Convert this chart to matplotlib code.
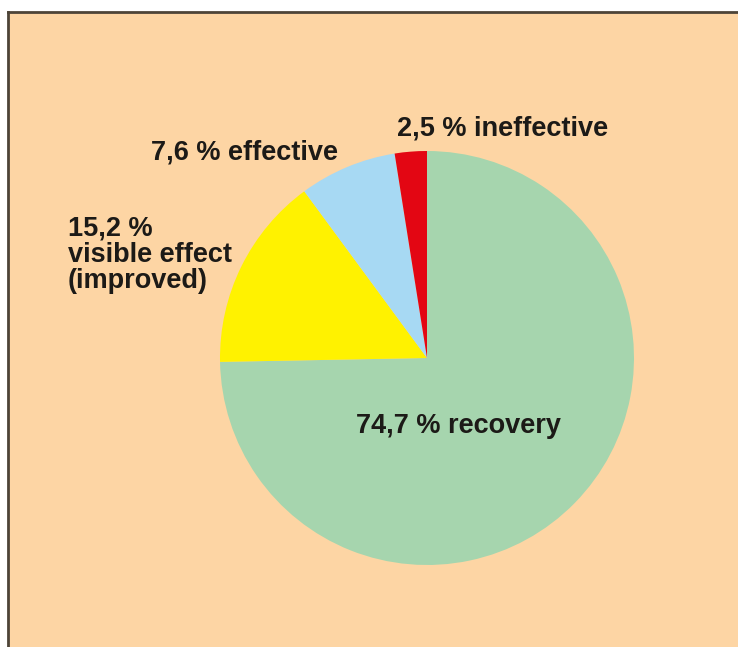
import matplotlib.pyplot as plt
from matplotlib.patches import Rectangle
from matplotlib.lines import Line2D

plt.rcParams['font.family'] = ['Liberation Sans', 'DejaVu Sans']

# outcome shares (%), clockwise from 12 o'clock
labels = ["recovery", "visible effect (improved)", "effective", "ineffective"]
shares = [74.7, 15.2, 7.6, 2.5]
colors = ["#a6d5ae", "#fff200", "#a7d9f3", "#e30613"]

W, H = 738, 647
bg = "#fdd5a4"
ink = "#1c1a17"

fig = plt.figure(figsize=(W / 100, H / 100), dpi=100)
fig.patch.set_facecolor("white")
ax = fig.add_axes([0, 0, 1, 1])

ax.pie(shares, colors=colors, startangle=90, counterclock=False,
       center=(427, H - 358), radius=207,
       wedgeprops=dict(linewidth=0))

ax.set_xlim(0, W)
ax.set_ylim(0, H)
ax.set_aspect("equal")
ax.axis("off")

# peach panel with dark frame on top and left
ax.add_patch(Rectangle((8, 0), W - 8, H - 11.5, facecolor=bg,
                       edgecolor="none", zorder=-1))
ax.add_line(Line2D([8, W], [H - 11.5, H - 11.5], color="#4d4438", lw=2))
ax.add_line(Line2D([8, 8], [0, H - 11.5], color="#4d4438", lw=2))


def label(x, y, s, **kw):
    ax.text(x, H - y, s, fontsize=19.5, fontweight="bold", color=ink,
            va="baseline", **kw)


label(458, 433, "74,7 % recovery", ha="center")
label(397, 136, "2,5 % ineffective", ha="left")
label(338, 160, "7,6 % effective", ha="right")
label(68, 236, "15,2 %", ha="left")
label(68, 262, "visible effect", ha="left")
label(68, 288, "(improved)", ha="left")

fig.savefig("out.png", dpi=100, facecolor=fig.get_facecolor())
